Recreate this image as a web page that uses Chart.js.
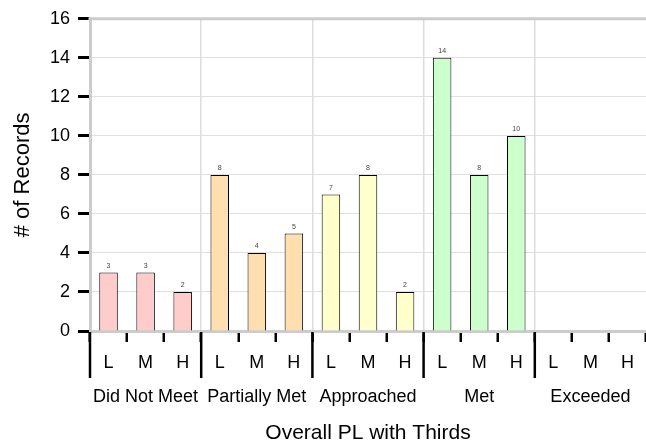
<!DOCTYPE html>
<html>
<head>
<meta charset="utf-8">
<script src="https://cdn.jsdelivr.net/npm/chart.js@4/dist/chart.umd.min.js"></script>
<style>
  body { margin: 0; background: #fff; }
</style>
</head>
<body>
<canvas id="chart" width="646" height="446"></canvas>
<script>
// data
const groups = ["Did Not Meet", "Partially Met", "Approached", "Met", "Exceeded"];
const thirds = ["L", "M", "H"];
const records = [3, 3, 2, 8, 4, 5, 7, 8, 2, 14, 8, 10, 0, 0, 0];
const yTicks = [0, 2, 4, 6, 8, 10, 12, 14, 16];

const groupColors = ["#ffcccc", "#ffdfb0", "#ffffcc", "#ccffcc", "#cce0ff"];

const labels = groups.flatMap(() => thirds);
const barColors = records.map((v, i) => groupColors[Math.floor(i / 3)]);

// draws the top frame, the group dividers under the axis and the value labels
const extras = {
  id: "extras",
  afterDraw(chart) {
    const ctx = chart.ctx;
    const area = chart.chartArea;
    const x = chart.scales.x;

    ctx.save();
    ctx.strokeStyle = "#cccccc";
    ctx.lineWidth = 3;
    ctx.beginPath();
    ctx.moveTo(area.left - 1.5, area.top);
    ctx.lineTo(area.right, area.top);
    ctx.stroke();

    ctx.strokeStyle = "#000";
    ctx.lineWidth = 2.5;
    for (let g = 0; g < groups.length; g++) {
      let px;
      if (g === 0) px = area.left;
      else px = (x.getPixelForValue(g * 3 - 1) + x.getPixelForValue(g * 3)) / 2;
      ctx.beginPath();
      ctx.moveTo(px, area.bottom + 1);
      ctx.lineTo(px, area.bottom + 47);
      ctx.stroke();
    }

    const meta = chart.getDatasetMeta(0);
    ctx.fillStyle = "#444";
    ctx.font = "7px 'Liberation Sans', Arial, sans-serif";
    ctx.textAlign = "center";
    ctx.textBaseline = "bottom";
    meta.data.forEach((bar, i) => {
      if (!records[i]) return;
      ctx.fillText(String(records[i]), bar.x, bar.y - 3);
    });
    ctx.restore();
  },
};

Chart.defaults.font.family = "'Liberation Sans', Arial, sans-serif";
Chart.defaults.color = "#000";

new Chart(document.getElementById("chart").getContext("2d"), {
  type: "bar",
  data: {
    labels: labels,
    datasets: [
      {
        data: records,
        backgroundColor: barColors,
        borderColor: "#000",
        borderWidth: 1,
        borderSkipped: "bottom",
        categoryPercentage: 1,
        barPercentage: 0.5,
      },
    ],
  },
  options: {
    responsive: false,
    animation: false,
    layout: { padding: { top: 16, right: 0, bottom: 0, left: 0 } },
    plugins: {
      legend: { display: false },
      tooltip: { enabled: false },
    },
    scales: {
      y: {
        min: 0,
        max: 16,
        afterBuildTicks: (scale) => {
          scale.ticks = yTicks.map((v) => ({ value: v }));
        },
        afterFit: (scale) => {
          scale.width = 90;
        },
        ticks: { font: { size: 18 }, padding: 8, color: "#000" },
        grid: {
          color: (c) => (c.tick && c.tick.value === 16 ? "transparent" : "#e0e0e0"),
          lineWidth: 1,
          tickColor: "#000",
          tickWidth: 3,
          tickLength: 12,
        },
        border: { color: "#cccccc", width: 3 },
        title: {
          display: true,
          text: "# of Records",
          font: { size: 22 },
          color: "#000",
          padding: { top: 10, bottom: 6 },
        },
      },
      x: {
        offset: true,
        weight: 1,
        afterFit: (scale) => {
          scale.height = 47;
        },
        ticks: { font: { size: 18 }, padding: 10, color: "#000", maxRotation: 0, autoSkip: false },
        grid: {
          offset: true,
          color: (c) => (c.index > 0 && c.index < 15 && c.index % 3 === 0 ? "#dddddd" : "transparent"),
          lineWidth: 1.5,
          tickColor: "#000",
          tickWidth: 2.5,
          tickLength: 11,
        },
        border: { color: "#cccccc", width: 3 },
      },
      x2: {
        type: "category",
        labels: groups,
        position: "bottom",
        offset: true,
        weight: 2,
        afterFit: (scale) => {
          scale.height = 68;
        },
        grid: { display: false, drawTicks: false },
        border: { display: false },
        ticks: { font: { size: 18 }, padding: 8, color: "#000", maxRotation: 0, autoSkip: false },
        title: {
          display: true,
          text: "Overall PL with Thirds",
          font: { size: 21 },
          color: "#000",
          padding: { top: 10, bottom: 0 },
        },
      },
    },
  },
  plugins: [extras],
});
</script>
</body>
</html>
